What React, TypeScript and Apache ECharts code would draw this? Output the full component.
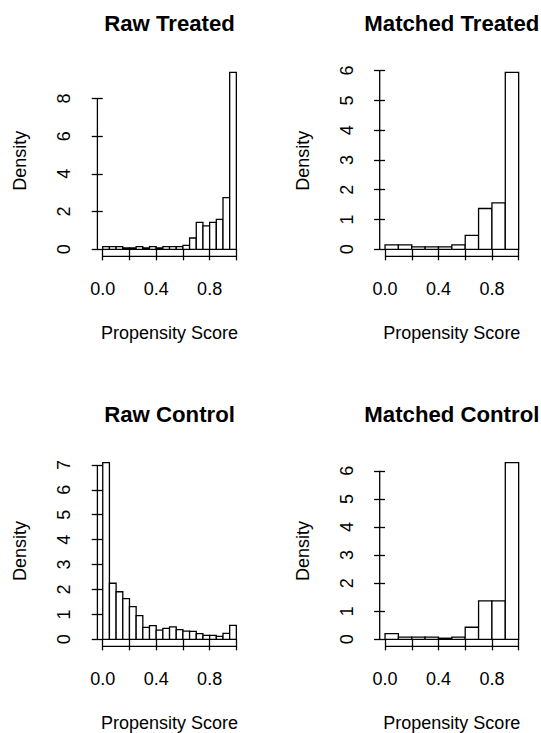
import React, { useEffect, useRef } from "react";
import * as echarts from "echarts";

const FONT = "'Liberation Sans', Arial, Helvetica, sans-serif";

const panelTitles = ["Raw Treated", "Matched Treated", "Raw Control", "Matched Control"];
const xTitle = "Propensity Score";
const yTitle = "Density";

const xTicks = [0, 0.2, 0.4, 0.6, 0.8, 1.0];
const xTickLabels = [0, 0.4, 0.8];

const breaks20 = [0, 0.05, 0.1, 0.15, 0.2, 0.25, 0.3, 0.35, 0.4, 0.45, 0.5, 0.55, 0.6, 0.65, 0.7, 0.75, 0.8, 0.85, 0.9, 0.95, 1.0];
const breaks10 = [0, 0.1, 0.2, 0.3, 0.4, 0.5, 0.6, 0.7, 0.8, 0.9, 1.0];

const rawTreatedDensity = [0.14, 0.14, 0.14, 0.07, 0.07, 0.14, 0.07, 0.14, 0.07, 0.14, 0.14, 0.14, 0.21, 0.6, 1.43, 1.24, 1.43, 1.59, 2.74, 9.38];
const matchedTreatedDensity = [0.15, 0.15, 0.08, 0.08, 0.08, 0.15, 0.47, 1.37, 1.56, 5.94];
const rawControlDensity = [7.09, 2.25, 1.91, 1.63, 1.31, 0.95, 0.48, 0.55, 0.37, 0.44, 0.5, 0.39, 0.33, 0.32, 0.23, 0.16, 0.16, 0.12, 0.24, 0.56];
const matchedControlDensity = [0.2, 0.08, 0.08, 0.08, 0.04, 0.08, 0.43, 1.37, 1.37, 6.29];

const rawTreatedYTicks = [0, 2, 4, 6, 8];
const matchedTreatedYTicks = [0, 1, 2, 3, 4, 5, 6];
const rawControlYTicks = [0, 1, 2, 3, 4, 5, 6, 7];
const matchedControlYTicks = [0, 1, 2, 3, 4, 5, 6];

const LW = 1.3;
const INK = "#000";

const panels = [
  { title: panelTitles[0], breaks: breaks20, density: rawTreatedDensity, yTicks: rawTreatedYTicks, left: 97.4, top: 65.3, height: 191.1, titleY: 23.9 },
  { title: panelTitles[1], breaks: breaks10, density: matchedTreatedDensity, yTicks: matchedTreatedYTicks, left: 379.7, top: 65.3, height: 191.1, titleY: 23.9 },
  { title: panelTitles[2], breaks: breaks20, density: rawControlDensity, yTicks: rawControlYTicks, left: 97.4, top: 455.6, height: 190.8, titleY: 414.0 },
  { title: panelTitles[3], breaks: breaks10, density: matchedControlDensity, yTicks: matchedControlYTicks, left: 379.7, top: 455.6, height: 190.8, titleY: 414.0 },
];
const PANEL_W = 144.3;

function buildOption() {
  const grid: any[] = [];
  const xAxis: any[] = [];
  const yAxis: any[] = [];
  const series: any[] = [];
  const graphic: any[] = [];

  panels.forEach((p, i) => {
    const xLo = p.breaks[0];
    const xHi = p.breaks[p.breaks.length - 1];
    const xr = xHi - xLo;
    const yMax = Math.max(...p.density);
    const xMin = xLo - 0.04 * xr;
    const xMax = xHi + 0.04 * xr;
    const yMin = -0.04 * yMax;
    const yTop = yMax * 1.04;

    grid.push({ left: p.left, top: p.top, width: PANEL_W, height: p.height, containLabel: false });

    xAxis.push({
      type: "value",
      gridIndex: i,
      min: xMin,
      max: xMax,
      axisLine: { show: false },
      splitLine: { show: false },
      axisTick: { show: true, customValues: xTicks, length: 11, lineStyle: { color: INK, width: LW } },
      axisLabel: {
        customValues: xTickLabels,
        formatter: (v: number) => v.toFixed(1),
        margin: 24,
        fontSize: 18,
        color: INK,
        fontFamily: FONT,
      },
      name: xTitle,
      nameLocation: "middle",
      nameGap: 67.5,
      nameTextStyle: { fontSize: 18, color: INK, fontFamily: FONT },
    });

    yAxis.push({
      type: "value",
      gridIndex: i,
      min: yMin,
      max: yTop,
      axisLine: { show: false },
      splitLine: { show: false },
      axisTick: { show: true, customValues: p.yTicks, length: 11, lineStyle: { color: INK, width: LW } },
      axisLabel: {
        customValues: p.yTicks,
        formatter: (v: number) => String(v),
        rotate: 90,
        align: "center",
        verticalAlign: "bottom",
        margin: 24,
        fontSize: 18,
        color: INK,
        fontFamily: FONT,
      },
      name: yTitle,
      nameLocation: "middle",
      nameGap: 68,
      nameTextStyle: { fontSize: 18, color: INK, fontFamily: FONT },
    });

    const bins = p.density.map((d, k) => [p.breaks[k], p.breaks[k + 1], d]);

    series.push({
      type: "custom",
      xAxisIndex: i,
      yAxisIndex: i,
      data: bins,
      encode: { x: [0, 1], y: 2 },
      silent: true,
      renderItem: (_params: any, api: any) => {
        const a = api.coord([api.value(0), api.value(2)]);
        const b = api.coord([api.value(1), 0]);
        return {
          type: "rect",
          shape: { x: a[0], y: a[1], width: b[0] - a[0], height: b[1] - a[1] },
          style: { fill: "#fff", stroke: INK, lineWidth: LW },
        };
      },
    });

    // y axis line spanning first to last tick (R style)
    series.push({
      type: "line",
      xAxisIndex: i,
      yAxisIndex: i,
      data: [
        [xMin, p.yTicks[0]],
        [xMin, p.yTicks[p.yTicks.length - 1]],
      ],
      symbol: "none",
      clip: false,
      silent: true,
      lineStyle: { color: INK, width: LW },
    });
    // x axis line spanning first to last tick
    series.push({
      type: "line",
      xAxisIndex: i,
      yAxisIndex: i,
      data: [
        [xTicks[0], yMin],
        [xTicks[xTicks.length - 1], yMin],
      ],
      symbol: "none",
      clip: false,
      silent: true,
      lineStyle: { color: INK, width: LW },
    });

    graphic.push({
      type: "text",
      x: p.left + PANEL_W / 2,
      y: p.titleY,
      style: {
        text: p.title,
        fill: INK,
        font: `bold 22.2px ${FONT}`,
        textAlign: "center",
        textVerticalAlign: "middle",
      },
    });
  });

  return {
    animation: false,
    backgroundColor: "#fff",
    grid,
    xAxis,
    yAxis,
    series,
    graphic,
  };
}

export default function App() {
  const ref = useRef<HTMLDivElement>(null);
  useEffect(() => {
    const chart = echarts.init(ref.current!, null, { renderer: "svg" });
    chart.setOption(buildOption() as any);
    return () => chart.dispose();
  }, []);
  return (
    <div
      ref={ref}
      style={{ position: "fixed", left: 0, top: 0, width: 541, height: 733, background: "#fff" }}
    />
  );
}
